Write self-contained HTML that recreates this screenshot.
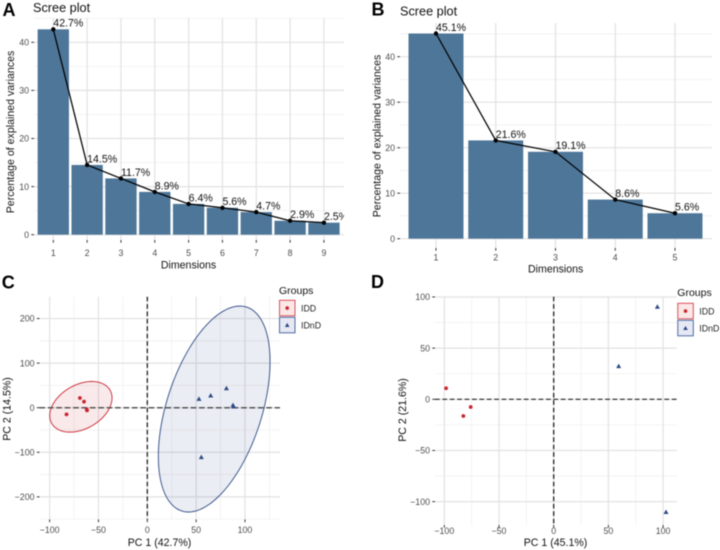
<!DOCTYPE html>
<html lang="en">
<head>
<meta charset="utf-8">
<title>Scree and PCA plots</title>
<style>
html,body{margin:0;padding:0;background:#fff;width:720px;height:550px;overflow:hidden}
svg{display:block;filter:blur(0.4px)}
text{font-family:"Liberation Sans",sans-serif}
</style>
</head>
<body>
<svg id="fig" xmlns="http://www.w3.org/2000/svg" width="720" height="550" viewBox="0 0 720 550">
  <defs>
    <clipPath id="clip-a"><rect x="34" y="15" width="310" height="225"/></clipPath>
    <clipPath id="clip-b"><rect x="400" y="20" width="312" height="228"/></clipPath>
  </defs>
  <rect x="0" y="0" width="720" height="550" fill="#fff"/>
  <g id="panel-a">
    <text x="2.5" y="16" font-size="18" font-weight="bold" fill="#000">A</text>
    <text x="33" y="12" font-size="12.7" fill="#111">Scree plot</text>
    <text x="188.5" y="268.5" font-size="10.6" text-anchor="middle" fill="#111">Dimensions</text>
    <text transform="translate(14,132) rotate(-90)" font-size="10.6" text-anchor="middle" fill="#111">Percentage of explained variances</text>
  </g>
  <g id="panel-b">
    <text x="371.5" y="15.5" font-size="18" font-weight="bold" fill="#000">B</text>
    <text x="400" y="15.5" font-size="12.7" fill="#111">Scree plot</text>
    <text x="555.7" y="272.5" font-size="10.6" text-anchor="middle" fill="#111">Dimensions</text>
    <text transform="translate(380.5,136) rotate(-90)" font-size="10.6" text-anchor="middle" fill="#111">Percentage of explained variances</text>
  </g>
  <g id="panel-c">
    <text x="1.7" y="288.3" font-size="18" font-weight="bold" fill="#000">C</text>
    <text x="159.5" y="546" font-size="10.6" text-anchor="middle" fill="#111">PC 1 (42.7%)</text>
    <text transform="translate(10.5,409) rotate(-90)" font-size="10.6" text-anchor="middle" fill="#111">PC 2 (14.5%)</text>
  </g>
  <g id="panel-d">
    <text x="371" y="288" font-size="18" font-weight="bold" fill="#000">D</text>
    <text x="555.5" y="546" font-size="10.6" text-anchor="middle" fill="#111">PC 1 (45.1%)</text>
    <text transform="translate(406,410) rotate(-90)" font-size="10.6" text-anchor="middle" fill="#111">PC 2 (21.6%)</text>
  </g>
</svg>
<script>
// Scree values
var screeCategoriesA = [1, 2, 3, 4, 5, 6, 7, 8, 9];
var screeValuesA = [42.7, 14.5, 11.7, 8.9, 6.4, 5.6, 4.7, 2.9, 2.5];
var screeTicksA = [0, 10, 20, 30, 40];
var screeCategoriesB = [1, 2, 3, 4, 5];
var screeValuesB = [45.1, 21.6, 19.1, 8.6, 5.6];
var screeTicksB = [0, 10, 20, 30, 40];

// PCA panel C
var iddXC = [-69, -64.8, -62, -61.7, -82.7];
var iddYC = [21.7, 13.5, -3.7, -6, -15];
var idndXC = [52.9, 64.9, 81, 87.7, 88.4, 55.3];
var idndYC = [20, 27.7, 44, 6, 3, -110.6];
var xTicksC = [-100, -50, 0, 50, 100];
var yTicksC = [-200, -100, 0, 100, 200];
// ellipse summaries: centre x, centre y, half-extent x, half-extent y, correlation
var iddEllipseC = [-68, 2, 31.9, 56.8, 0.35];
var idndEllipseC = [68.5, -3, 57.2, 231, 0.46];

// PCA panel D
var iddXD = [-98.4, -82.6, -75.9];
var iddYD = [10.8, -16.3, -7.5];
var idndXD = [59.4, 94.8, 102.7];
var idndYD = [32.6, 90.6, -110];
var xTicksD = [-100, -50, 0, 50, 100];
var yTicksD = [-100, -50, 0, 50, 100];

var groupNames = ['IDD', 'IDnD'];

var NS = 'http://www.w3.org/2000/svg';
var RED = '#c9252f', NAVY = '#2f4a85', BAR = '#4e7699';
var GRID_MAJOR = '#e2e2e2', GRID_MINOR = '#f0f0f0', TICK = '#333', TICK_TEXT = '#4d4d4d';

function mk(parent, tag, attrs, txt) {
  var el = document.createElementNS(NS, tag);
  for (var k in attrs) el.setAttribute(k, attrs[k]);
  if (txt !== undefined) el.textContent = txt;
  parent.appendChild(el);
  return el;
}
function fmt(v) { return v < 0 ? '\u2212' + Math.abs(v) : String(v); }

function hLine(parent, p, y, stroke, w) {
  var el = mk(parent, 'line', {x1: p.l, x2: p.r, y1: y, y2: y, stroke: stroke, 'stroke-width': w});
  
  
}
function vLine(parent, p, x, stroke, w) {
  var el = mk(parent, 'line', {x1: x, x2: x, y1: p.t, y2: p.b, stroke: stroke, 'stroke-width': w});
  
  
}
function yTick(parent, p, yPos, label) {
  var t = mk(parent, 'line', {x1: p.l - 2.7, x2: p.l, y1: yPos, y2: yPos, stroke: TICK, 'stroke-width': 1});
  
  
  var l = mk(parent, 'text', {x: p.l - 5, y: yPos + 3.2, 'font-size': 8.8, 'text-anchor': 'end', fill: TICK_TEXT}, label);
  
  
}
function xTick(parent, p, xPos, label) {
  var t = mk(parent, 'line', {x1: xPos, x2: xPos, y1: p.b, y2: p.b + 2.7, stroke: TICK, 'stroke-width': 1});
  
  
  var l = mk(parent, 'text', {x: xPos, y: p.b + p.tickGap, 'font-size': 8.8, 'text-anchor': 'middle', fill: TICK_TEXT}, label);
  
  
}

function drawScree(id, clipId, p, cats, vals, ticks, barFrac) {
  var parent = document.getElementById(id);
  var xs = function (c) { return p.x1 + (c - 1) * p.step; };
  var ys = function (v) { return p.y0 - v * p.unit; };
  var v, g = mk(parent, 'g', {});
  
  
  for (v = 5; ys(v) > p.t; v += 10) hLine(g, p, ys(v), GRID_MINOR, 0.8);
  ticks.forEach(function (tv) { hLine(g, p, ys(tv), GRID_MAJOR, 1.2); });
  cats.forEach(function (c) { vLine(g, p, xs(c), GRID_MAJOR, 1.2); });
  var w = p.step * barFrac;
  cats.forEach(function (c, idx) {
    var bar = mk(g, 'rect', {x: xs(c) - w / 2, y: ys(vals[idx]), width: w, height: p.y0 - ys(vals[idx]), fill: BAR});
    
    
  });
  var pts = cats.map(function (c, idx) { return xs(c) + ',' + ys(vals[idx]); }).join(' ');
  var line = mk(g, 'polyline', {points: pts, fill: 'none', stroke: '#000', 'stroke-width': 1.25});
  
  
  cats.forEach(function (c, idx) {
    var dot = mk(g, 'circle', {cx: xs(c), cy: ys(vals[idx]), r: 2.2, fill: '#000'});
    
    
    var lab = mk(g, 'text', {x: xs(c), y: ys(vals[idx]) - 2.6, 'font-size': 10.6, fill: '#111', 'clip-path': 'url(#' + clipId + ')'}, vals[idx].toFixed(1) + '%');
    
    
  });
  ticks.forEach(function (tv) { yTick(g, p, ys(tv), fmt(tv)); });
  cats.forEach(function (c) { xTick(g, p, xs(c), String(c)); });
}

function drawDashed(g, p, x0, y0) {
  var h = mk(g, 'line', {x1: p.l, x2: p.r, y1: y0, y2: y0, stroke: p.hColor, 'stroke-width': p.hWidth, 'stroke-dasharray': p.hDash});
  
  
  var v = mk(g, 'line', {x1: x0, x2: x0, y1: p.t, y2: p.b, stroke: '#111', 'stroke-width': 1.2, 'stroke-dasharray': '4.6 2.8'});
  
  
}

function circleMark(g, x, y, color, r) {
  return mk(g, 'circle', {cx: x, cy: y, r: r, fill: color});
}
function triMark(g, x, y, color, s) {
  return mk(g, 'polygon', {points: (x - s) + ',' + (y + s * 0.85) + ' ' + (x + s) + ',' + (y + s * 0.85) + ' ' + x + ',' + (y - s * 0.95), fill: color});
}

function ellipsePath(e, xs, ys) {
  var phi = Math.acos(e[4]), d = '';
  for (var k = 0; k <= 120; k++) {
    var t = k / 120 * 2 * Math.PI;
    var px = xs(e[0] + e[2] * Math.cos(t));
    var py = ys(e[1] + e[3] * Math.cos(t - phi));
    d += (k ? 'L' : 'M') + px.toFixed(2) + ' ' + py.toFixed(2);
  }
  return d + 'Z';
}

function drawLegend(parent, lg) {
  var g = mk(parent, 'g', {});
  
  
  var title = mk(g, 'text', {x: lg.x, y: lg.titleY, 'font-size': 10.5, fill: '#111'}, 'Groups');
  
  
  groupNames.forEach(function (name, i) {
    var y = lg.ys[i];
    var red = i === 0;
    var box = mk(g, 'rect', {x: lg.x + 0.5, y: y, width: 15.5, height: 15.5, fill: red ? '#fbe8e6' : '#e6e9f3', stroke: red ? '#d9505a' : '#4f6aa3', 'stroke-width': 1});
    
    
    var m = red ? circleMark(g, lg.x + 8.2, y + 7.8, RED, 1.8) : triMark(g, lg.x + 8.2, y + 7.8, NAVY, 2.3);
    
    
    var t = mk(g, 'text', {x: lg.x + 22, y: y + 11, 'font-size': 8.8, fill: '#222'}, name);
    
    
  });
}

function drawPca(id, p, xTicks, yTicks, xa, ya, xb, yb, ellA, ellB, lg) {
  var parent = document.getElementById(id);
  var xs = function (v) { return p.x0 + v * p.ux; };
  var ys = function (v) { return p.y0 - v * p.uy; };
  var g = mk(parent, 'g', {});
  
  
  var dx = xTicks[1] - xTicks[0], dy = yTicks[1] - yTicks[0], v;
  for (v = xTicks[0] - dx / 2; v <= xTicks[xTicks.length - 1] + dx / 2; v += dx) {
    if (xs(v) > p.l && xs(v) < p.r) vLine(g, p, xs(v), GRID_MINOR, 0.8);
  }
  for (v = yTicks[0] - dy / 2; v <= yTicks[yTicks.length - 1] + dy / 2; v += dy) {
    if (ys(v) > p.t && ys(v) < p.b) hLine(g, p, ys(v), GRID_MINOR, 0.8);
  }
  xTicks.forEach(function (t) { vLine(g, p, xs(t), GRID_MAJOR, 1.2); });
  yTicks.forEach(function (t) { hLine(g, p, ys(t), GRID_MAJOR, 1.2); });
  if (ellA) {
    var e1 = mk(g, 'path', {d: ellipsePath(ellA, xs, ys), fill: RED, 'fill-opacity': 0.1, stroke: RED, 'stroke-width': 0.9});
    
    
  }
  if (ellB) {
    var e2 = mk(g, 'path', {d: ellipsePath(ellB, xs, ys), fill: NAVY, 'fill-opacity': 0.1, stroke: NAVY, 'stroke-width': 0.9});
    
    
  }
  drawDashed(g, p, xs(0), ys(0));
  xa.forEach(function (x, i) {
    var c = circleMark(g, xs(x), ys(ya[i]), RED, 1.9);
    
    
  });
  xb.forEach(function (x, i) {
    var t = triMark(g, xs(x), ys(yb[i]), NAVY, 2.5);
    
    
  });
  yTicks.forEach(function (t) { yTick(g, p, ys(t), fmt(t)); });
  xTicks.forEach(function (t) { xTick(g, p, xs(t), fmt(t)); });
  drawLegend(parent, lg);
}

drawScree('panel-a', 'clip-a',
  {l: 34, r: 344, t: 18, b: 240, x1: 53.3, step: 33.83, y0: 234.7, unit: 4.81, tickGap: 16},
  screeCategoriesA, screeValuesA, screeTicksA, 0.925);
drawScree('panel-b', 'clip-b',
  {l: 400, r: 712, t: 23, b: 248, x1: 436, step: 59.75, y0: 238.7, unit: 4.55, tickGap: 12.5},
  screeCategoriesB, screeValuesB, screeTicksB, 0.92);
drawPca('panel-c',
  {l: 39.5, r: 280, t: 296.7, b: 519.5, x0: 147.3, y0: 407.7, ux: 0.9767, uy: 0.4458, tickGap: 13.5,
   hColor: '#555', hWidth: 1.5, hDash: '5.6 2.8'},
  xTicksC, yTicksC, iddXC, iddYC, idndXC, idndYC, iddEllipseC, idndEllipseC,
  {x: 279, titleY: 294, ys: [300.3, 317.3]});
drawPca('panel-d',
  {l: 435, r: 677, t: 296.7, b: 525, x0: 553.7, y0: 399.3, ux: 1.0937, uy: 1.0233, tickGap: 9,
   hColor: '#222', hWidth: 1.2, hDash: '4.7 2.7'},
  xTicksD, yTicksD, iddXD, iddYD, idndXD, idndYD, null, null,
  {x: 677.3, titleY: 296, ys: [303.3, 320.3]});
</script>
</body>
</html>
